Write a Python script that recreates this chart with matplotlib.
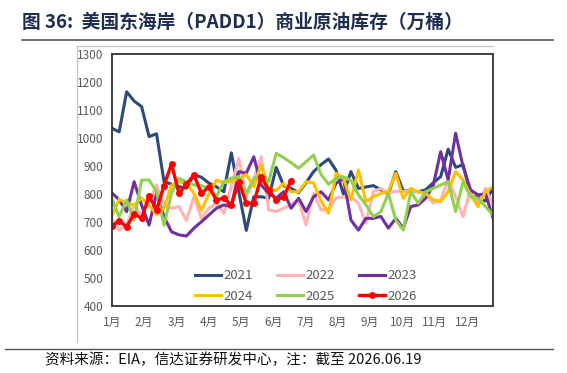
import numpy as np
import matplotlib
matplotlib.use("Agg")
import matplotlib.pyplot as plt
from matplotlib.lines import Line2D

plt.rcParams['font.family'] = ['Noto Sans CJK SC', 'DejaVu Sans']

# ---------------------------------------------------------------- data (万桶, weekly)
months = ['1月', '2月', '3月', '4月', '5月', '6月', '7月', '8月', '9月', '10月', '11月', '12月']

y2021 = [1035, 1022, 1165, 1132, 1112, 1005, 1015, 844, 835, 826, 821, 868, 860,
         839, 826, 808, 947, 808, 670, 790, 790, 785, 895, 830, 820, 805,
         840, 880, 905, 925, 885, 800, 880, 820, 825, 830, 815, 800, 880,
         810, 814, 808, 815, 840, 862, 960, 895, 905, 800, 790, 775, 820]
y2022 = [713, 671, 689, 760, 725, 770, 832, 761, 749, 755, 705, 790, 713,
         749, 767, 731, 826, 927, 790, 850, 933, 743, 737, 749, 761, 779,
         689, 802, 743, 745, 785, 790, 790, 767, 695, 808, 820, 802, 810,
         808, 814, 808, 800, 767, 779, 850, 790, 719, 820, 761, 820, 760]
y2023 = [805, 779, 737, 844, 760, 689, 802, 719, 665, 654, 650, 678, 701,
         725, 749, 761, 755, 880, 874, 933, 832, 802, 785, 808, 749, 785,
         737, 790, 808, 779, 838, 856, 707, 671, 713, 713, 720, 678, 713,
         678, 755, 761, 785, 830, 951, 850, 1017, 897, 814, 797, 800, 715]
y2024 = [719, 781, 767, 761, 785, 761, 725, 749, 832, 844, 838, 802, 742,
         800, 850, 840, 845, 850, 870, 826, 905, 820, 812, 838, 808, 808,
         844, 840, 775, 731, 874, 856, 779, 886, 773, 790, 802, 808, 874,
         785, 820, 808, 802, 779, 773, 808, 880, 850, 797, 755, 808, 826]
y2025 = [785, 719, 779, 707, 850, 850, 808, 689, 802, 856, 844, 832, 830,
         820, 790, 844, 856, 862, 802, 856, 868, 844, 945, 930, 912, 892,
         915, 939, 870, 835, 855, 862, 848, 797, 761, 719, 737, 802, 707,
         671, 808, 767, 808, 820, 832, 844, 737, 844, 790, 785, 755, 725]
y2026 = [686, 704, 683, 729, 713, 793, 743, 830, 907, 802, 835, 868, 802,
         826, 779, 785, 761, 844, 767, 767, 862, 814, 779, 790, 848]

series = [('2021', y2021, '#2E4A7A'),
          ('2022', y2022, '#FFB3B5'),
          ('2023', y2023, '#7030A0'),
          ('2024', y2024, '#FFC000'),
          ('2025', y2025, '#92D050')]

W, H = 567, 373
fig = plt.figure(figsize=(W / 100, H / 100), dpi=100)

# title + rules
fig.text(22 / W, 1 - 22 / H, '图 36:  美国东海岸（PADD1）商业原油库存（万桶）',
         fontsize=13.5, fontweight='bold', color='#1F2D50', va='center', ha='left')
fig.add_artist(Line2D([22 / W, 553 / W], [1 - 40 / H, 1 - 40 / H], color='#555555', lw=1.2))
fig.add_artist(Line2D([5 / W, 553 / W], [1 - 349 / H, 1 - 349 / H], color='#555555', lw=1.0))
# outer chart box (light grey)
fig.add_artist(Line2D([77 / W, 493 / W], [1 - 46 / H, 1 - 46 / H], color='#C8C8C8', lw=1.0))
fig.add_artist(Line2D([77 / W, 77 / W], [1 - 46 / H, 1 - 342 / H], color='#C8C8C8', lw=1.0))

fig.text(45 / W, 1 - 360 / H, '资料来源：EIA，信达证券研发中心，注：截至 2026.06.19',
         fontsize=10.5, style='italic', color='#111111', va='center', ha='left')

ax = fig.add_axes([111.7 / W, 1 - 306 / H, (493 - 111.7) / W, (306 - 54) / H])

handles = {}
for name, vals, col in series:
    h, = ax.plot(np.arange(len(vals)), vals, color=col, lw=2.2, label=name)
    handles[name] = h
h, = ax.plot(np.arange(len(y2026)), y2026, color='#FF0000', lw=2.4,
             marker='o', markersize=4, label='2026')
handles['2026'] = h

ax.set_xlim(0, 51)
ax.set_ylim(400, 1300)
ax.set_yticks(np.arange(400, 1301, 100))
ax.set_xticks([i * 4.32 for i in range(12)])
ax.set_xticklabels(months)
ax.tick_params(length=0, labelsize=8.5, labelcolor='#595959')
ax.tick_params(axis='x', pad=7)
ax.tick_params(axis='y', pad=6)
for s in ax.spines.values():
    s.set_color('#333333')
    s.set_linewidth(1.3)

order = ['2021', '2024', '2022', '2025', '2023', '2026']
ax.legend([handles[k] for k in order], order, ncol=3, frameon=False,
          loc='upper left', bbox_to_anchor=(0.2, 0.172), fontsize=9.5,
          labelcolor='#595959', handlelength=2.0, handletextpad=0.2,
          columnspacing=1.8, labelspacing=0.55, borderpad=0)

fig.savefig('out.png', dpi=100)
